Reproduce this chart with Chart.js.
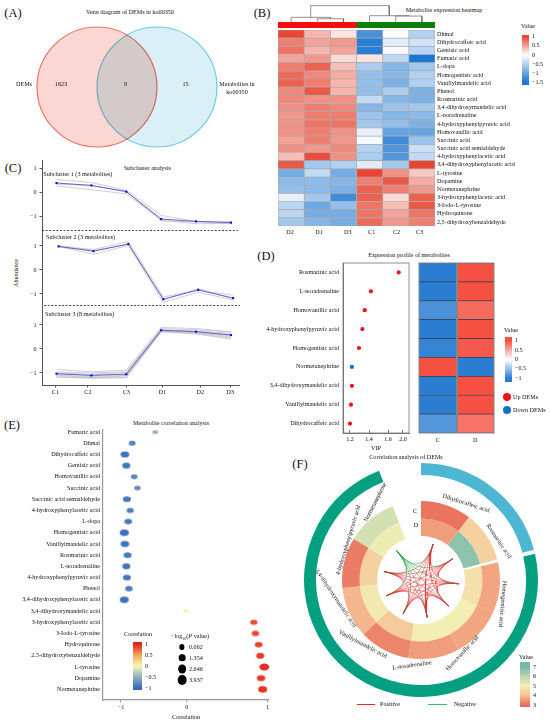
<!DOCTYPE html>
<html>
<head>
<meta charset="utf-8">
<script src="https://cdn.jsdelivr.net/npm/chart.js@4/dist/chart.umd.js"></script>
<style>
  html, body { margin: 0; background: #fff; }
  #page { position: relative; width: 550px; height: 723px; overflow: hidden; font-family: "Liberation Serif", serif; color: #111; }
  #page canvas { position: absolute; }
  .t { position: absolute; white-space: pre; line-height: 1; }
  .t sub { font-size: .65em; line-height: 0; }
  .dot { position: absolute; border-radius: 50%; transform: translate(-50%, -50%); }
  .rule { position: absolute; height: 1px; }
</style>
</head>
<body>
<div id="page"></div>
<script>
// (A) venn
var vennCenters = [-1, 1];
var vennRadius = [60, 60];

// (B) heatmap
var heatCols = ["D2", "D1", "D3", "C1", "C2", "C3"];
var heatRows = ["Dhmal", "Dihydrocaffeic acid", "Gentisic acid", "Fumaric acid", "L-dopa", "Homogentisic acid",
    "Vanillylmandelic acid", "Phenol", "Rosmarinic acid", "3,4-dihydroxymandelic acid", "L-noradrenaline",
    "4-hydroxyphenylpyruvic acid", "Homovanillic acid", "Succinic acid", "Succinic acid semialdehyde",
    "4-hydroxyphenylacetic acid", "3,4-dihydroxyphenylacetic acid", "L-tyrosine", "Dopamine", "Normetanephrine",
    "3-hydroxyphenylacetic acid", "3-Iodo-L-tyrosine", "Hydroquinone", "2,5-dihydroxybenzaldehyde"];
var heatValues = [
    [1.0, .4, .15, -1.2, 0, -.5],
    [.7, .5, .55, -1.4, -.2, -.3],
    [.75, .4, .5, -1.4, -.05, -.45],
    [.5, .55, .2, .15, -.45, -1.5],
    [.7, .85, .35, -.55, -.8, -.6],
    [.8, .65, .45, -.7, -.8, -.5],
    [.85, .7, .4, -.7, -.85, -.5],
    [.65, .9, .4, -.7, -.55, -.85],
    [.65, .6, .6, -.4, -.8, -.85],
    [.6, .7, .65, -.8, -.65, -.6],
    [.55, .7, .7, -.65, -.8, -.75],
    [.6, .75, .75, -.6, -.7, -.85],
    [.6, .7, .6, -.15, -1, -1],
    [.5, .7, .55, -.05, -1.25, -.65],
    [.6, .55, .65, -.5, -1.15, -.35],
    [.35, .95, .6, -.55, -1.15, -.4],
    [.9, -.6, -.5, -.2, -.6, 1.1],
    [-.9, -.4, -.9, 1.05, .6, .3],
    [-.75, -.75, -.8, .7, .9, .45],
    [-.7, -.75, -.85, .85, .7, .55],
    [-.15, -.6, -1.25, .85, .2, .85],
    [-.45, -.95, -.7, .75, .35, .9],
    [-.45, -.9, -.9, .75, .5, .75],
    [-.6, -.8, -.9, .8, .55, .7]
];
var heatColTicks = [.46, 1.57, 2.67, 3.58, 4.53, 5.41];
var heatGroups = [3, 3];
// dendrogram merges: left x, right x, left base, right base, height
var dendroMerges = [
    [1.5, 2.5, 0, 0, .18],
    [0.5, 2, 0, .18, .26],
    [4.5, 5.5, 0, 0, .33],
    [3.5, 5, 0, .33, .35],
    [1.25, 4.25, .26, .35, .91]
];

// (C) subclusters
var timeLabels = ["C1", "C2", "C3", "D1", "D2", "D3"];
var timeTicks = [-.03, .9, 2, 3.03, 4.12, 4.98];
var cluster1Lines = [
    [.55, .42, .1, -.95, -1.2, -1.2],
    [.35, .3, .05, -1.18, -1.22, -1.3],
    [.28, .12, -.05, -1.15, -1.3, -1.28]
];
var cluster1Mean = [.4, .3, .04, -1.1, -1.2, -1.25];
var cluster2Lines = [
    [1.0, .85, 1.18, -1.12, -.85, -1.05],
    [.98, .65, 1.02, -1.35, -.93, -1.25],
    [.95, .82, 1.05, -1.22, -.78, -1.2]
];
var cluster2Mean = [.98, .78, 1.08, -1.22, -.83, -1.17];
var cluster3Lines = [
    [-.85, -.95, -.88, .9, .85, .72],
    [-.95, -1, -.95, .85, .8, .7],
    [-1, -1.05, -.98, .8, .75, .65],
    [-1.02, -1.1, -1.05, .78, .72, .6],
    [-1.08, -1.15, -1.1, .75, .7, .55],
    [-1.1, -1.2, -1.12, .75, .68, .5],
    [-1.15, -1.22, -1.18, .72, .65, .45],
    [-1.18, -1.2, -1.2, .72, .62, .42]
];
var cluster3Mean = [-1.03, -1.1, -1.05, .78, .72, .58];

// (D) VIP + profile
var vipNames = ["Rosmarinic acid", "L-noradrenaline", "Homovanillic acid", "4-hydroxyphenylpyruvic acid",
    "Homogentisic acid", "Normetanephrine", "3,4-dihydroxymandelic acid", "Vanillylmandelic acid", "Dihydrocaffeic acid"];
var vipValues = [1.885, 1.42, 1.355, 1.33, 1.295, 1.22, 1.22, 1.21, 1.2];
var vipUp = [1, 1, 1, 1, 1, 0, 1, 1, 1];
var vipTicks = [1.2, 1.4, 1.6, 2];
var profileC = [-1, -1, -.85, -1, -.95, 1, -1, -1, -.8];
var profileD = [1, 1, .85, 1, .95, -1, 1, 1, .8];

// (E) correlation
var corrNames = ["Fumaric acid", "Dhmal", "Dihydrocaffeic acid", "Gentisic acid", "Homovanillic acid", "Succinic acid",
    "Succinic acid semialdehyde", "4-hydroxyphenylacetic acid", "L-dopa", "Homogentisic acid", "Vanillylmandelic acid",
    "Rosmarinic acid", "L-noradrenaline", "4-hydroxyphenylpyruvic acid", "Phenol", "3,4-dihydroxyphenylacetic acid",
    "3,4-dihydroxymandelic acid", "3-hydroxyphenylacetic acid", "3-Iodo-L-tyrosine", "Hydroquinone",
    "2,5-dihydroxybenzaldehyde", "L-tyrosine", "Dopamine", "Normetanephrine"];
var corrValues = [-.48, -.83, -.94, -.92, -.8, -.75, -.91, -.86, -.89, -.95, -.94, -.9, -.92, -.91, -.88, -.95,
    -.01, .83, .85, .89, .91, .96, .92, .94];
var corrLogP = [.3, 1.2, 2.8, 2.4, 1.1, 1, 2.2, 1.6, 2, 3.1, 2.8, 2.2, 2.3, 2.2, 1.8, 2.9, .06, 1.6, 1.8, 2, 2.3, 3.9, 2.6, 3];
var pLegend = ["0.062", "1.354", "2.646", "3.937"];

// (F) circos
var ringSectors = ["Dihydrocaffeic acid", "Rosmarinic acid", null, "Homogentisic acid", "Homovanillic acid", "L-noradrenaline",
    "Vanillylmandelic acid", "3,4-dihydroxymandelic acid", "4-hydroxyphenylpyruvic acid", "Normetanephrine", null];
var sectorSpans = [37.5, 37.5, 2, 37.43, 37.43, 37.43, 37.43, 37.43, 37.43, 37.42, 21];
var ringC = [3.1, 4.4, null, 3.7, 3.7, 3.6, 3.3, 3.9, 3.2, 5.6, null];
var ringD = [3.6, 6.7, null, 4.7, 5.0, 5.0, 4.3, 4.9, 4.4, 5.1, null];
var groupSpans = [75, 2, 262, 21];
var negativeNode = "Normetanephrine";

var FONT = '"Liberation Serif", serif';
var TXT = 6.15;
Chart.defaults.font.family = FONT;
Chart.defaults.font.size = TXT;
Chart.defaults.color = "#111";
Chart.defaults.animation = false;
Chart.defaults.responsive = false;
Chart.defaults.devicePixelRatio = 1;
Chart.defaults.events = [];
Chart.defaults.plugins.legend.display = false;
Chart.defaults.plugins.tooltip.enabled = false;

var page = document.getElementById("page");

function txt(s, x, y, o) {
    o = o || {};
    var d = document.createElement("div");
    d.className = "t";
    if (o.html) d.innerHTML = s;
    else d.textContent = s;
    d.style.left = x + "px";
    d.style.top = y + "px";
    d.style.fontSize = (o.size || TXT) + "px";
    d.style.transform = (o.left ? "translate(0,-50%)" : "translate(-50%,-50%)") + (o.rot ? " rotate(" + o.rot + "deg)" : "");
    page.appendChild(d);
}

function dot(x, y, w, h, color) {
    var d = document.createElement("div");
    d.className = "dot";
    d.style.cssText = "left:" + x + "px;top:" + y + "px;width:" + w + "px;height:" + h + "px;background:" + color;
    page.appendChild(d);
}

function rule(x, y, w, color) {
    var d = document.createElement("div");
    d.className = "rule";
    d.style.cssText = "left:" + x + "px;top:" + y + "px;width:" + w + "px;background:" + color;
    page.appendChild(d);
}

// box = plot rectangle in page pixels; l/r/t/b = room around it for the axes
function addChart(box, cfg) {
    var c = document.createElement("canvas");
    var l = box.l || 0, r = box.r || 0, t = box.t || 0, b = box.b || 0;
    c.width = box.w + l + r;
    c.height = box.h + t + b;
    c.style.left = (box.x - l) + "px";
    c.style.top = (box.y - t) + "px";
    page.appendChild(c);
    var pad = { left: l, right: r, top: t, bottom: b };
    var opts = cfg.options = cfg.options || {};
    var scales = opts.scales || {};
    Object.keys(scales).forEach(function(id) {
        var s = scales[id];
        if (s.display === false) return;
        var pos = s.position || (id.charAt(0) === "y" ? "left" : "bottom");
        var size = pad[pos];
        pad[pos] = 0;
        s.afterFit = function(sc) {
            if (pos === "left" || pos === "right") sc.width = size;
            else sc.height = size;
            sc.paddingTop = sc.paddingBottom = sc.paddingLeft = sc.paddingRight = 0;
        };
    });
    opts.layout = { padding: pad, autoPadding: false };
    return new Chart(c, cfg);
}

function ticksAt(vals) {
    return function(scale) { scale.ticks = vals.map(function(v) { return { value: v }; }); };
}
function minus(v) { return String(v).replace("-", "\u2212"); }
var plainTicks = { autoSkip: false, maxRotation: 0, minRotation: 0, padding: 2 };
function tickOpts(extra) { return Object.assign({}, plainTicks, extra); }
var hidden = { display: false };
var noGrid = { display: false, drawTicks: false };

function mix(v, stops) {
    if (v <= stops[0][0]) return "rgb(" + stops[0][1].join(",") + ")";
    for (var i = 1; i < stops.length; i++) {
        if (v <= stops[i][0]) {
            var f = (v - stops[i - 1][0]) / (stops[i][0] - stops[i - 1][0]);
            var a = stops[i - 1][1], b = stops[i][1];
            return "rgb(" + a.map(function(q, k) { return Math.round(q + (b[k] - q) * f); }).join(",") + ")";
        }
    }
    return "rgb(" + stops[stops.length - 1][1].join(",") + ")";
}

// the reference axes of D and E are not evenly spaced, so ticks map piecewise
var axisStops = {
    vip: { values: [1.13, 1.2, 1.4, 1.6, 2, 2.08], fracs: [0, .106, .394, .682, .909, 1] },
    corr: { values: [-1.27, -1, 0, 1, 1.01], fracs: [0, .109, .508, .997, 1] }
};
class StopScale extends Chart.LinearScale {
    getPixelForValue(v) {
        var st = axisStops[this.options.stopKey], vs = st.values, fs = st.fracs;
        for (var i = 1; i < vs.length; i++) {
            if (v <= vs[i] || i === vs.length - 1) {
                return this.getPixelForDecimal(fs[i - 1] + (fs[i] - fs[i - 1]) * (v - vs[i - 1]) / (vs[i] - vs[i - 1]));
            }
        }
    }
}
StopScale.id = "stops";
StopScale.defaults = Chart.LinearScale.defaults;
Chart.register(StopScale);

function colorbar(box, min, max, ticks, stops) {
    addChart(Object.assign({ r: 18, t: 4, b: 4 }, box), {
        type: "bar",
        data: {
            labels: [""],
            datasets: [{
                data: [[min, max]],
                barPercentage: 1,
                categoryPercentage: 1,
                backgroundColor: function(ctx) {
                    var a = ctx.chart.chartArea;
                    if (!a) return "#fff";
                    var g = ctx.chart.ctx.createLinearGradient(0, a.bottom, 0, a.top);
                    stops.forEach(function(s) { g.addColorStop(Math.max(0, (s[0] - min) / (max - min)), mix(s[0], stops)); });
                    return g;
                }
            }]
        },
        options: {
            scales: {
                x: hidden,
                y: {
                    position: "right", min: min, max: max,
                    afterBuildTicks: ticksAt(ticks),
                    border: { display: false },
                    grid: noGrid,
                    ticks: tickOpts({ padding: 3, callback: minus })
                }
            }
        }
    });
}

// ---------- (A) ----------
txt("(A)", 13, 13, { size: 12.5 });
txt("Venn diagram of DEMs in ko00350", 130, 12);
addChart({ x: 31.7, y: 20, w: 190, h: 134 }, {
    type: "bubble",
    data: {
        datasets: vennCenters.map(function(cx, i) {
            return {
                data: [{ x: cx, y: 0, r: vennRadius[i] }],
                backgroundColor: i ? "rgb(218,240,246)" : "rgb(250,215,210)",
                borderColor: i ? "rgb(122,208,232)" : "rgb(240,122,110)",
                borderWidth: 1.2,
                clip: false
            };
        }).reverse()
    },
    options: { scales: { x: { display: false, min: -3.167, max: 3.167 }, y: { display: false, min: -2.233, max: 2.233 } } },
    plugins: [{
        id: "multiply",
        beforeDatasetsDraw: function(ch) { ch.ctx.globalCompositeOperation = "multiply"; },
        afterDatasetsDraw: function(ch) { ch.ctx.globalCompositeOperation = "source-over"; }
    }]
});
txt("DEMs", 24, 84);
txt("1623", 61, 84);
txt("9", 125.5, 84);
txt("15", 185.5, 84);
txt("Metabolites in", 237, 84);
txt("ko00350", 237, 92);

// ---------- (B) ----------
var heatStops = [[-1.5, [25, 118, 210]], [0, [255, 255, 255]], [1, [232, 70, 50]]];
txt("(B)", 262, 13, { size: 12.5 });
txt("Metabolite expression heatmap", 444, 10);
addChart({ x: 278, y: 4, w: 157, h: 18 }, {
    type: "scatter",
    data: {
        datasets: dendroMerges.map(function(m) {
            return {
                data: [{ x: m[0], y: m[2] }, { x: m[0], y: m[4] }, { x: m[1], y: m[4] }, { x: m[1], y: m[3] }],
                showLine: true, pointRadius: 0, borderWidth: .7, borderColor: "#666", clip: false
            };
        })
    },
    options: { scales: { x: { display: false, min: 0, max: 6 }, y: { display: false, min: 0, max: 1 } } }
});
addChart({ x: 278, y: 22, w: 157, h: 6 }, {
    type: "bar",
    data: {
        labels: [""],
        datasets: heatGroups.map(function(n, i) {
            return { data: [n], backgroundColor: i ? "#0a800a" : "#f30d0d", barPercentage: 1, categoryPercentage: 1 };
        })
    },
    options: {
        indexAxis: "y",
        scales: { x: { display: false, stacked: true, min: 0, max: 6 }, y: { display: false, stacked: true } }
    }
});
addChart({ x: 278, y: 30, w: 157, h: 196, r: 115, b: 12 }, {
    type: "bar",
    data: {
        labels: heatRows,
        datasets: heatCols.map(function(name, c) {
            return {
                label: name,
                data: heatRows.map(function() { return 1; }),
                backgroundColor: heatRows.map(function(r, i) { return mix(heatValues[i][c], heatStops); }),
                borderColor: "#a9a9a9",
                borderWidth: .7,
                borderSkipped: false,
                barPercentage: 1,
                categoryPercentage: 1
            };
        })
    },
    options: {
        indexAxis: "y",
        scales: {
            x: {
                stacked: true, min: 0, max: 6,
                afterBuildTicks: ticksAt(heatColTicks),
                border: { display: false },
                grid: noGrid,
                ticks: tickOpts({ padding: 2.5, callback: function(v, i) { return heatCols[i]; } })
            },
            y: {
                stacked: true, position: "right",
                border: { display: false },
                grid: noGrid,
                ticks: tickOpts({ padding: 2 })
            }
        }
    }
});
txt("Value", 528, 26);
colorbar({ x: 521.7, y: 35, w: 7.3, h: 50 }, -1.64, 1.09, [-1.5, -1, -.5, 0, .5, 1], heatStops);

// ---------- (C) ----------
txt("(C)", 13, 168, { size: 12.5 });
txt("Subcluster analysis", 147.3, 167.7);
txt("Abundance", 16, 273, { rot: -90 });

function lineSet(values, color, width, marker) {
    return {
        data: values.map(function(v, i) { return { x: i, y: v }; }),
        showLine: true,
        borderColor: color,
        borderWidth: width,
        pointRadius: marker ? 1.5 : 0,
        pointStyle: "rect",
        pointBackgroundColor: "#0a0af0",
        pointBorderWidth: 0,
        clip: false
    };
}

function cluster(box, lines, mean, yMin, yMax, shift, divider, bottom) {
    var sets = [lineSet(mean, "#5a62d8", 1, true)];
    lines.forEach(function(l) { sets.push(lineSet(l, "#bcbcbc", .7, false)); });
    if (divider !== null) {
        sets.push({
            data: [{ x: -.415, y: divider }, { x: 5.2, y: divider }],
            showLine: true, pointRadius: 0, borderColor: "#111", borderWidth: .8, borderDash: [2, 1.6], clip: false
        });
    }
    addChart(Object.assign({ x: 42, w: 198, l: 42 }, box), {
        type: "scatter",
        data: { datasets: sets },
        options: {
            scales: {
                x: bottom ? {
                    min: -.415 - shift, max: 5.258 - shift,
                    afterBuildTicks: ticksAt(timeTicks),
                    border: { color: "#555", width: 1 },
                    grid: { drawOnChartArea: false, tickLength: 2.5, color: "#555" },
                    ticks: tickOpts({ padding: 1, callback: function(v, i) { return timeLabels[i]; } })
                } : { display: false, min: -.415 - shift, max: 5.258 - shift },
                y: {
                    min: yMin, max: yMax,
                    afterBuildTicks: ticksAt([-1, 0, 1]),
                    border: { color: "#555", width: 1 },
                    grid: { drawOnChartArea: false, tickLength: 2.5, color: "#555" },
                    ticks: tickOpts({ padding: 3, callback: minus })
                }
            }
        }
    });
}
cluster({ y: 160, h: 71 }, cluster1Lines, cluster1Mean, -1.6, 1.36, 0, -1.58, false);
cluster({ y: 231, h: 75 }, cluster2Lines, cluster2Mean, -1.5, 1.62, .06, -1.48, false);
cluster({ y: 306, h: 79, b: 14 }, cluster3Lines, cluster3Mean, -1.5, 1.79, 0, null, true);
txt("Subcluster 1 (3 metabolites)", 43.3, 174.3, { left: true });
txt("Subcluster 2 (3 metabolites)", 46, 236.7, { left: true });
txt("Subcluster 3 (8 metabolites)", 45, 313.7, { left: true });

// ---------- (D) ----------
var profileStops = [[-1, [43, 125, 210]], [0, [255, 255, 255]], [1, [246, 80, 66]]];
txt("(D)", 266, 256, { size: 12.5 });
txt("Expression profile of metabolites", 409, 255);
addChart({ x: 343, y: 263, w: 66, h: 170, l: 103, r: 1, t: 1, b: 20 }, {
    type: "scatter",
    data: {
        datasets: [{
            data: vipNames.map(function(n, i) { return { x: vipValues[i], y: n }; }),
            pointRadius: 2.1,
            pointBorderWidth: 0,
            pointBackgroundColor: vipUp.map(function(u) { return u ? "#f70f1c" : "#1570c8"; }),
            clip: false
        }]
    },
    options: {
        scales: {
            x: {
                type: "stops", stopKey: "vip", min: 1.13, max: 2.08,
                afterBuildTicks: ticksAt(vipTicks),
                border: { color: "#777" },
                grid: { drawOnChartArea: false, tickLength: -3, color: "#777" },
                ticks: tickOpts({ padding: 6 })
            },
            y: {
                type: "category", labels: vipNames, offset: true,
                border: { color: "#777" },
                grid: noGrid,
                ticks: tickOpts({ padding: 4 })
            }
        }
    },
    plugins: [{
        id: "frame",
        afterDraw: function(ch) {
            var a = ch.chartArea;
            ch.ctx.strokeStyle = "#777";
            ch.ctx.lineWidth = .8;
            ch.ctx.strokeRect(a.left, a.top, a.right - a.left, a.bottom - a.top);
        }
    }]
});
txt("VIP", 376, 447.5);
addChart({ x: 418.7, y: 263, w: 75.5, h: 170, l: 1, r: 1, t: 1, b: 12 }, {
    type: "bar",
    data: {
        labels: vipNames,
        datasets: [profileC, profileD].map(function(col, c) {
            return {
                label: c ? "D" : "C",
                data: col.map(function() { return 1; }),
                backgroundColor: col.map(function(v) { return mix(v, profileStops); }),
                borderColor: "#34404e",
                borderWidth: { top: .7, bottom: .7, left: 0, right: 0 },
                borderSkipped: false,
                barPercentage: 1,
                categoryPercentage: 1
            };
        })
    },
    options: {
        indexAxis: "y",
        scales: {
            x: {
                stacked: true, min: 0, max: 2,
                afterBuildTicks: ticksAt([.5, 1.5]),
                border: { display: false },
                grid: noGrid,
                ticks: tickOpts({ padding: 4, callback: function(v, i) { return ["C", "D"][i]; } })
            },
            y: { display: false, stacked: true }
        }
    },
    plugins: [{
        id: "colFrames",
        afterDraw: function(ch) {
            var a = ch.chartArea, x = ch.scales.x;
            ch.ctx.strokeStyle = "#858585";
            ch.ctx.lineWidth = 1;
            [0, 1].forEach(function(k) {
                var l = x.getPixelForValue(k), r = x.getPixelForValue(k + 1);
                ch.ctx.strokeRect(l + (k ? 1 : 0), a.top, r - l - (k ? 1 : 0), a.bottom - a.top);
            });
        }
    }]
});
txt("Value", 511, 330);
colorbar({ x: 505, y: 337, w: 7.3, h: 45 }, -1.2, 1.2, [-1, -.5, 0, .5, 1], profileStops);
dot(507, 397, 8, 8, "#f70f1c");
txt("Up DEMs", 513, 397, { left: true });
dot(507, 410, 8, 8, "#1570c8");
txt("Down DEMs", 513, 410, { left: true });

// ---------- (E) ----------
var corrStops = [[-1, [55, 105, 190]], [-.5, [140, 178, 192]], [0, [248, 248, 180]], [.5, [245, 165, 90]], [1, [225, 35, 30]]];
txt("(E)", 12, 425, { size: 12.5 });
txt("Metabolite correlation analysis", 171, 423);

function ellipseSprite(color, rx, ry) {
    var c = document.createElement("canvas");
    c.width = Math.ceil(rx * 2) + 2;
    c.height = Math.ceil(ry * 2) + 2;
    var g = c.getContext("2d");
    g.fillStyle = color;
    g.beginPath();
    g.ellipse(c.width / 2, c.height / 2, rx, ry, 0, 0, Math.PI * 2);
    g.fill();
    return c;
}
var corrSprites = corrValues.map(function(v, i) {
    var rx = 2.7 + .58 * corrLogP[i];
    return ellipseSprite(mix(v, corrStops), rx, rx * .72);
});
addChart({ x: 103, y: 430, w: 165.5, h: 270.6, l: 103, r: 2, t: 1, b: 20 }, {
    type: "scatter",
    data: {
        datasets: [{
            data: corrValues.map(function(v, i) { return { x: v, y: i }; }),
            pointStyle: function(ctx) { return corrSprites[ctx.dataIndex]; },
            clip: false
        }]
    },
    options: {
        scales: {
            x: {
                type: "stops", stopKey: "corr", min: -1.27, max: 1.01,
                afterBuildTicks: ticksAt([-1, 0, 1]),
                border: { color: "#999", width: 1.2 },
                grid: { drawOnChartArea: false, tickLength: 2.5, color: "#999" },
                ticks: tickOpts({ padding: 1, callback: minus })
            },
            y: {
                reverse: true, min: -.18, max: 23.95,
                afterBuildTicks: ticksAt(corrNames.map(function(n, i) { return i; })),
                border: { color: "#999", width: 1.2 },
                grid: noGrid,
                ticks: tickOpts({ padding: 3, callback: function(v) { return corrNames[v]; } })
            }
        }
    }
});
txt("Correlation", 186, 717);
txt("Correlation", 138, 634);
colorbar({ x: 133, y: 641.7, w: 9, h: 48.3 }, -1.09, 1.09, [-1, -.5, 0, .5, 1], corrStops);
txt("\u2212log<sub>10</sub>(<i>P</i> value)", 190, 636, { html: true });
var pW = [5.3, 6.7, 7.7, 8.7], pH = [6, 7.7, 9, 10];
pLegend.forEach(function(s, i) {
    dot(182, 646.5 + i * 11.1, pW[i], pH[i], "#000");
    txt(s, 189, 647 + i * 11.1, { left: true });
});

// ---------- (F) ----------
var ringStops = [[3, [232, 108, 90]], [4, [245, 190, 145]], [5, [242, 238, 180]], [6, [190, 215, 175]], [7, [120, 185, 170]]];
txt("(F)", 300, 464, { size: 12.5 });
txt("Correlation analysis of DEMs", 406, 457);
function ringColors(vals) {
    return vals.map(function(v) { return v === null ? "rgba(0,0,0,0)" : mix(v, ringStops); });
}
addChart({ x: 304, y: 462.5, w: 234, h: 234 }, {
    type: "doughnut",
    data: {
        labels: ringSectors,
        datasets: [
            { data: groupSpans, backgroundColor: ["#4cb6d3", "rgba(0,0,0,0)", "#04a081", "rgba(0,0,0,0)"], weight: 12 },
            { data: [1], backgroundColor: ["rgba(0,0,0,0)"], weight: 26 },
            { label: "C", data: sectorSpans, backgroundColor: ringColors(ringC), weight: 17.5 },
            { label: "D", data: sectorSpans, backgroundColor: ringColors(ringD), weight: 17.5 }
        ]
    },
    options: {
        cutout: 44,
        borderWidth: 0,
        offset: 0,
        hoverOffset: 0,
        elements: { arc: { borderWidth: 0 } }
    }
});

// chords run between the middles of the sectors, bent through the centre
var nodes = [];
var sweep = 0;
ringSectors.forEach(function(name, i) {
    if (name) nodes.push({ name: name, angle: (sweep + sectorSpans[i] / 2) * Math.PI / 180 });
    sweep += sectorSpans[i];
});
var chordSets = [];
nodes.forEach(function(a, i) {
    nodes.slice(i + 1).forEach(function(b) {
        var neg = a.name === negativeNode || b.name === negativeNode;
        var R = .325, pts = [];
        for (var k = 0; k <= 16; k++) {
            var t = k / 16, w = (1 - t) * (1 - t), z = t * t;
            pts.push({
                x: R * (w * Math.sin(a.angle) + z * Math.sin(b.angle)),
                y: R * (w * Math.cos(a.angle) + z * Math.cos(b.angle))
            });
        }
        chordSets.push({
            data: pts, showLine: true, pointRadius: 0, borderWidth: .5,
            borderColor: neg ? "#1f9d3f" : "#f2222a", order: neg ? 0 : 1
        });
    });
});
addChart({ x: 304, y: 462.5, w: 234, h: 234 }, {
    type: "scatter",
    data: { datasets: chordSets },
    options: { scales: { x: { display: false, min: -1, max: 1 }, y: { display: false, min: -1, max: 1 } } }
});

txt("Dihydrocaffeic acid", 465.7, 502.7, { rot: 18 });
txt("Rosmarinic acid", 499, 541, { rot: 56 });
txt("Homogentisic acid", 503.3, 604, { rot: 95 });
txt("Homovanillic acid", 461.7, 653.3, { rot: -47 });
txt("L-noradrenaline", 412.3, 665, { rot: -8 });
txt("Vanillylmandelic acid", 362.7, 644, { rot: 28 });
txt("3,4-dihydroxymandelic acid", 336, 598, { rot: 56 });
txt("4-hydroxyphenylpyruvic acid", 347.5, 540, { rot: -73 });
txt("Normetanephrine", 375, 502, { rot: -63 });
txt("C", 415, 511);
txt("D", 416, 524.7);

rule(357, 704, 18, "#f2222a");
txt("Positive", 390, 704);
rule(428, 704, 18.5, "#3cb96a");
txt("Negative", 465, 704);
txt("Value", 526, 657);
colorbar({ x: 520, y: 662.3, w: 10.7, h: 45 }, 2.8, 7.55, [3, 4, 5, 6, 7], ringStops);
</script>
</body>
</html>
